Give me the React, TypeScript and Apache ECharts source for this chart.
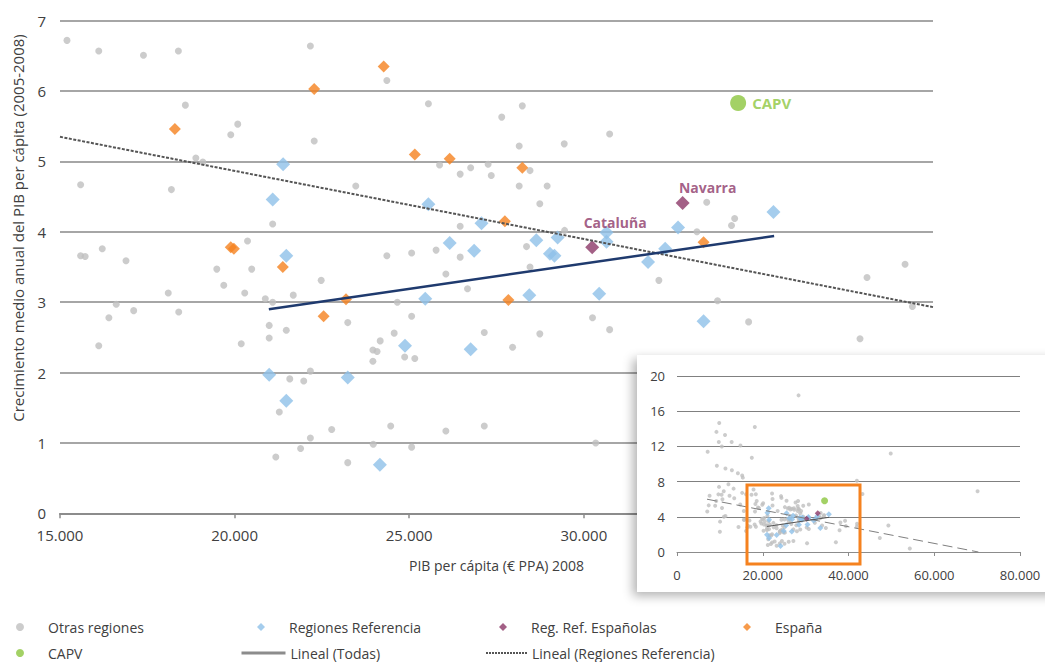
import React, { useEffect, useRef } from "react";
import * as echarts from "echarts";

const FONT = '"Open Sans", "Noto Sans", sans-serif';

// PIB per cápita (€ PPA) 2008, crecimiento medio anual 2005-2008 (%)
const otrasRegiones: [number, number][] = [
  [15200, 6.72], [16110, 6.57], [17390, 6.51], [18390, 6.57], [22170, 6.64],
  [18590, 5.8], [19890, 5.38], [20090, 5.53], [22280, 5.29], [18890, 5.05],
  [19090, 4.99], [15590, 4.67], [18190, 4.6], [21090, 4.11], [15590, 3.66],
  [15720, 3.65], [16210, 3.76], [16890, 3.59], [20370, 3.87], [19490, 3.47],
  [20490, 3.47], [22480, 3.31], [19690, 3.24], [18100, 3.13], [20290, 3.13],
  [21680, 3.1], [20880, 3.05], [21090, 3.0], [16110, 2.38], [16400, 2.78],
  [16610, 2.97], [17110, 2.88], [18400, 2.86], [20190, 2.41], [20990, 2.67],
  [20990, 2.49], [21480, 2.6], [21580, 1.91], [21980, 1.88], [22170, 2.02],
  [21280, 1.44], [22780, 1.19], [22170, 1.07], [21890, 0.92], [21180, 0.8],
  [23240, 0.72], [23240, 2.71], [24360, 6.15], [25550, 5.82], [28240, 5.79],
  [27650, 5.63], [30740, 5.39], [28150, 5.22], [29440, 5.25], [25870, 4.95],
  [26460, 4.82], [26760, 4.91], [27260, 4.96], [27350, 4.8], [28460, 4.87],
  [28150, 4.65], [28950, 4.65], [23470, 4.65], [28740, 4.4], [26460, 4.08],
  [29450, 4.02], [24360, 3.66], [25070, 3.7], [25770, 3.74], [26460, 3.64],
  [28360, 3.79], [26050, 3.4], [28460, 3.5], [26670, 3.19], [32150, 3.31],
  [24660, 3.0], [25070, 2.8], [24570, 2.56], [24170, 2.45], [23960, 2.32],
  [24080, 2.3], [23960, 2.16], [24870, 2.22], [25160, 2.2], [27150, 2.57],
  [27960, 2.36], [28740, 2.55], [30250, 2.78], [30740, 2.61], [24470, 1.24],
  [26050, 1.17], [27150, 1.24], [23970, 0.98], [25070, 0.94], [30340, 1.0],
  [33520, 4.42], [34320, 4.19], [34230, 4.09], [33240, 4.0], [33830, 3.02],
  [34720, 2.72], [37910, 2.48], [38110, 3.35], [39200, 3.54], [39410, 2.94],
  [37050, 1.1],
];

// Regions outside the 15.000-40.000 / 0-7 window (overview only)
const otrasRegionesFuera: [number, number][] = [
  [7150, 11.4], [9850, 14.65], [9200, 13.65], [11200, 13.3], [9750, 12.5],
  [10450, 12.0], [12750, 12.5], [14800, 12.1], [18150, 14.2], [17450, 10.7],
  [9300, 9.8], [11300, 9.5], [12800, 9.3], [14200, 8.95], [15200, 8.7],
  [15350, 8.45], [9800, 7.4], [12000, 7.7], [13200, 7.2], [17850, 7.1],
  [10900, 6.9], [9650, 6.55], [10400, 6.5], [7600, 6.4], [12250, 6.4],
  [13350, 6.1], [9150, 5.8], [10600, 6.0], [8900, 5.25], [7400, 5.3],
  [14750, 5.4], [7050, 4.6], [10500, 5.0], [11300, 4.1], [10950, 4.0],
  [10050, 3.45], [10000, 2.3], [14350, 2.85], [28350, 17.8], [49850, 11.2],
  [41950, 8.1], [43250, 6.6], [70100, 6.9], [49300, 3.0], [47300, 1.6],
  [54300, 0.4], [42000, 3.2], [41950, 2.9],
];

const regionesReferencia: [number, number][] = [
  [21390, 4.96], [21090, 4.46], [21480, 3.66], [20990, 1.97], [21480, 1.6],
  [23240, 1.93], [24160, 0.69], [24880, 2.38], [26760, 2.33], [25460, 3.05],
  [28440, 3.1], [30440, 3.12], [25550, 4.39], [27070, 4.12], [26160, 3.84],
  [26860, 3.73], [28640, 3.88], [29250, 3.92], [29030, 3.69], [29160, 3.66],
  [30650, 3.99], [30650, 3.86], [31840, 3.57], [32330, 3.76], [32700, 4.06],
  [35430, 4.28], [33430, 2.73],
];

const regRefEspanolasNombres = ["Cataluña", "Navarra"];
const regRefEspanolas: [number, number][] = [[30240, 3.78], [32830, 4.41]];

const espana: [number, number][] = [
  [18290, 5.46], [22280, 6.03], [24270, 6.35], [25160, 5.1], [26160, 5.04],
  [28240, 4.91], [27740, 4.15], [19890, 3.78], [19980, 3.76], [21380, 3.5],
  [22550, 2.8], [23190, 3.04], [27840, 3.03], [33430, 3.85],
];

const capv: [number, number] = [34420, 5.83];

// Trend lines (end points)
const linealTodas: [number, number][] = [[15000, 5.35], [40000, 2.93]];
const linealReferencia: [number, number][] = [[20980, 2.9], [35450, 3.94]];
const linealTodasVista: [number, number][] = [[7000, 6.0], [70300, 0]];

// Axis ranges
const ejeXPrincipal = { min: 15000, max: 40000, interval: 5000 };
const ejeYPrincipal = { min: 0, max: 7, interval: 1 };
const ejeXVista = { min: 0, max: 80000, interval: 20000 };
const ejeYVista = { min: 0, max: 20, interval: 4 };

const COLORS = {
  otras: "#bfbfbf",
  referencia: "#8fc1e9",
  espanolas: "#8c3868",
  espana: "#f5821f",
  capv: "#8cc63f",
  navy: "#1f3a6e",
  dotted: "#555555",
  text: "#404040",
};

const miles = (v: number) =>
  String(v).replace(/\B(?=(\d{3})+(?!\d))/g, ".");

// One legend block per entry so each sits on its own grid cell
function markerLegend(name: string, left: number, top: number) {
  return {
    data: [name],
    left,
    top,
    padding: 0,
    itemWidth: 8,
    itemHeight: 8,
    symbolKeepAspect: true,
    selectedMode: false,
    textStyle: {
      fontSize: 14,
      color: COLORS.text,
      lineHeight: 14,
      fontFamily: FONT,
      padding: [0, 0, 0, 19],
    },
  };
}

function lineLegend(name: string, left: number, top: number, width: number, lineStyle: object) {
  return {
    data: [{ name, lineStyle, itemStyle: { opacity: 0, color: "rgba(0,0,0,0)", borderWidth: 0 } }],
    left,
    top,
    padding: 0,
    itemWidth: width,
    itemHeight: 8,
    selectedMode: false,
    textStyle: { fontSize: 14, color: COLORS.text, lineHeight: 14, fontFamily: FONT },
  };
}

function mainOption(): echarts.EChartsCoreOption {
  return {
    animation: false,
    textStyle: { fontFamily: FONT },
    grid: { left: 60, right: 112, top: 20.7, bottom: 148.7 },
    xAxis: {
      type: "value",
      ...ejeXPrincipal,
      name: "PIB per cápita (€ PPA) 2008",
      nameLocation: "middle",
      nameGap: 45,
      nameTextStyle: { fontSize: 14, color: COLORS.text, fontFamily: FONT },
      axisLine: { show: true, onZero: false, lineStyle: { color: "#8c8c8c", width: 2 } },
      axisTick: { show: true, length: 5, lineStyle: { color: "#8c8c8c", width: 1.5 } },
      splitLine: { show: false },
      axisLabel: { formatter: miles, color: COLORS.text, fontSize: 15, margin: 14, fontFamily: FONT },
    },
    yAxis: {
      type: "value",
      ...ejeYPrincipal,
      axisLine: { show: false },
      axisTick: { show: false },
      splitLine: { lineStyle: { color: "#a6a6a6", width: 2 } },
      axisLabel: { color: COLORS.text, fontSize: 15, margin: 14, fontFamily: FONT },
    },
    graphic: [
      {
        type: "text",
        x: 18,
        y: 228,
        rotation: Math.PI / 2,
        style: {
          text: "Crecimiento medio anual del PIB per cápita (2005-2008)",
          fontSize: 15,
          fontFamily: FONT,
          fill: COLORS.text,
          align: "center",
          verticalAlign: "middle",
        },
      },
    ],
    legend: [
      markerLegend("Otras regiones", 16, 620),
      markerLegend("Regiones Referencia", 257, 620),
      markerLegend("Reg. Ref. Españolas", 499, 620),
      markerLegend("España", 743, 620),
      markerLegend("CAPV", 16, 646),
      lineLegend("Lineal (Todas)", 240, 646, 44, { color: "#8c8c8c", width: 3, type: "solid" }),
      lineLegend("Lineal (Regiones Referencia)", 485, 646, 41, { color: COLORS.dotted, width: 2, type: [2, 1] }),
    ],
    series: [
      {
        name: "Otras regiones",
        type: "scatter",
        symbol: "circle",
        symbolSize: 7,
        itemStyle: { color: COLORS.otras },
        data: otrasRegiones,
      },
      {
        name: "Regiones Referencia",
        type: "scatter",
        symbol: "diamond",
        symbolSize: 14,
        itemStyle: { color: COLORS.referencia },
        data: regionesReferencia,
      },
      {
        name: "Reg. Ref. Españolas",
        type: "scatter",
        symbol: "diamond",
        symbolSize: 14,
        itemStyle: { color: COLORS.espanolas },
        label: {
          show: true,
          formatter: "{b}",
          color: COLORS.espanolas,
          fontWeight: "bold",
          fontSize: 14,
          fontFamily: FONT,
          position: "top",
        },
        data: regRefEspanolas.map((v, i) => ({
          name: regRefEspanolasNombres[i],
          value: v,
          label: { offset: i === 0 ? [23, -6] : [25, 4] },
        })),
      },
      {
        name: "España",
        type: "scatter",
        symbol: "diamond",
        symbolSize: 12,
        itemStyle: { color: COLORS.espana },
        data: espana,
      },
      {
        name: "CAPV",
        type: "scatter",
        symbol: "circle",
        symbolSize: 16,
        itemStyle: { color: COLORS.capv },
        label: {
          show: true,
          formatter: "CAPV",
          position: "right",
          distance: 6,
          color: COLORS.capv,
          fontWeight: "bold",
          fontSize: 15,
          fontFamily: FONT,
        },
        data: [capv],
      },
      {
        name: "Lineal (Todas)",
        type: "line",
        symbol: "none",
        lineStyle: { color: COLORS.dotted, width: 2, type: [3, 1.5] },
        itemStyle: { color: COLORS.dotted },
        data: linealTodas,
        z: 5,
      },
      {
        name: "Lineal (Regiones Referencia)",
        type: "line",
        symbol: "none",
        lineStyle: { color: COLORS.navy, width: 2.5 },
        itemStyle: { color: COLORS.navy },
        data: linealReferencia,
        z: 5,
      },
    ],
  };
}

function insetOption(): echarts.EChartsCoreOption {
  return {
    animation: false,
    textStyle: { fontFamily: FONT },
    grid: { left: 40, top: 21, width: 343, height: 176 },
    xAxis: {
      type: "value",
      ...ejeXVista,
      axisLine: { show: true, onZero: false, lineStyle: { color: "#8c8c8c", width: 1 } },
      axisTick: { show: true, length: 4, lineStyle: { color: "#8c8c8c" } },
      splitLine: { show: false },
      axisLabel: { formatter: miles, color: COLORS.text, fontSize: 13, margin: 16, fontFamily: FONT },
    },
    yAxis: {
      type: "value",
      ...ejeYVista,
      axisLine: { show: false },
      axisTick: { show: false },
      splitLine: { lineStyle: { color: "#808080", width: 1 } },
      axisLabel: { color: COLORS.text, fontSize: 13, margin: 12, fontFamily: FONT },
    },
    graphic: [
      {
        type: "rect",
        z: 100,
        shape: { x: 110, y: 130, width: 113, height: 79 },
        style: { fill: "none", stroke: COLORS.espana, lineWidth: 3 },
      },
    ],
    series: [
      {
        type: "scatter",
        symbol: "circle",
        symbolSize: 4,
        itemStyle: { color: COLORS.otras },
        data: [...otrasRegiones, ...otrasRegionesFuera, ...espana],
      },
      {
        type: "scatter",
        symbol: "diamond",
        symbolSize: 6,
        itemStyle: { color: COLORS.referencia },
        data: regionesReferencia,
      },
      {
        type: "scatter",
        symbol: "diamond",
        symbolSize: 6,
        itemStyle: { color: COLORS.espanolas },
        data: regRefEspanolas,
      },
      {
        type: "scatter",
        symbol: "circle",
        symbolSize: 7,
        itemStyle: { color: COLORS.capv },
        data: [capv],
      },
      {
        type: "line",
        symbol: "none",
        lineStyle: { color: "#7f7f7f", width: 1, type: [10, 5] },
        data: linealTodasVista,
        z: 5,
      },
      {
        type: "line",
        symbol: "none",
        lineStyle: { color: COLORS.dotted, width: 1 },
        data: linealReferencia,
        z: 5,
      },
    ],
  };
}

export default function App() {
  const mainRef = useRef<HTMLDivElement>(null);
  const insetRef = useRef<HTMLDivElement>(null);

  useEffect(() => {
    if (!mainRef.current || !insetRef.current) return;
    const main = echarts.init(mainRef.current, undefined, { renderer: "svg" });
    main.setOption(mainOption());
    const inset = echarts.init(insetRef.current, undefined, { renderer: "svg" });
    inset.setOption(insetOption());
    return () => {
      main.dispose();
      inset.dispose();
    };
  }, []);

  return (
    <div
      style={{
        position: "fixed",
        left: 0,
        top: 0,
        width: 1045,
        height: 662,
        overflow: "hidden",
        background: "#fff",
      }}
    >
      <div ref={mainRef} style={{ position: "absolute", left: 0, top: 0, width: 1045, height: 662 }} />
      <div
        style={{
          position: "absolute",
          left: 637,
          top: 355,
          width: 430,
          height: 237,
          background: "#fff",
          boxShadow: "-4px 4px 10px rgba(0,0,0,0.3)",
        }}
      >
        <div ref={insetRef} style={{ width: 430, height: 237 }} />
      </div>
    </div>
  );
}
